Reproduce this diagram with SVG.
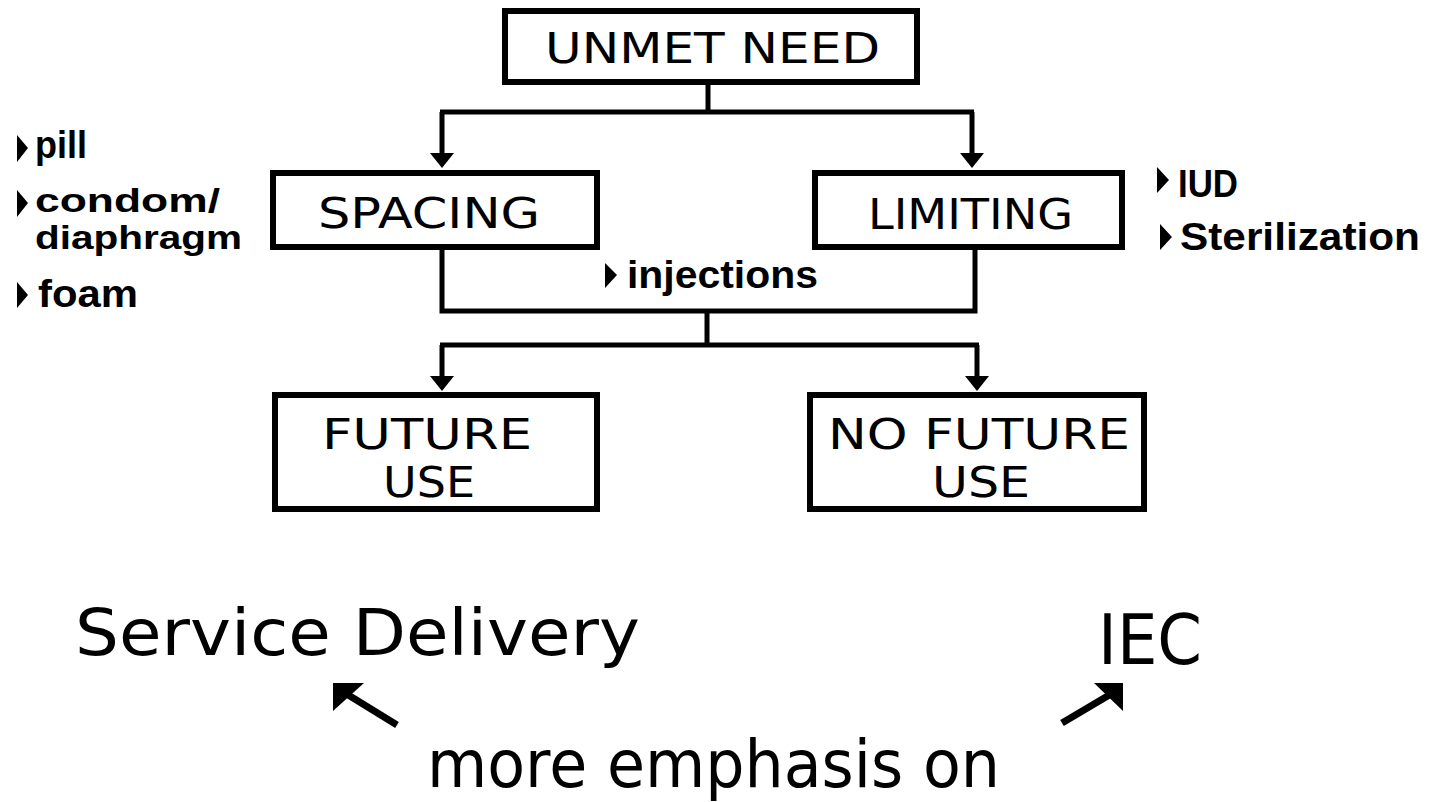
<svg xmlns="http://www.w3.org/2000/svg" width="1429" height="802" viewBox="0 0 1429 802">
<style>
.box{fill:#fff;stroke:#000;stroke-width:6}
.lbl{font-family:"DejaVu Sans","Liberation Sans",sans-serif;font-size:43px;fill:#000}
.big{font-family:"DejaVu Sans","Liberation Sans",sans-serif;fill:#000}
.bul{font-family:"Liberation Sans","Arial",sans-serif;font-weight:bold;font-size:39px;fill:#000}
.sm{font-size:34px}
.con{fill:none;stroke:#000;stroke-width:5}
.tri{fill:#000}
</style>
<defs>
<marker id="ah" viewBox="0 0 15 24" refX="0" refY="12" markerWidth="15" markerHeight="24" markerUnits="userSpaceOnUse" orient="auto">
<path d="M0,0 L15,12 L0,24 Z" fill="#000"/>
</marker>
</defs>
<rect width="1429" height="802" fill="#fff"/>
<g id="connectors">
<path class="con" d="M708,85 V112"/>
<path class="con" d="M440,112 H974"/>
<path class="con" d="M442,112 V153" marker-end="url(#ah)"/>
<path class="con" d="M972,112 V153" marker-end="url(#ah)"/>
<path class="con" d="M442,250 V311 H975 V250"/>
<path class="con" d="M707,311 V345"/>
<path class="con" d="M440,345 H979"/>
<path class="con" d="M442,345 V376" marker-end="url(#ah)"/>
<path class="con" d="M977,345 V376" marker-end="url(#ah)"/>
<path d="M345,693 L397,725" stroke="#000" stroke-width="7" fill="none"/>
<polygon points="333,683 364,683 333,711" fill="#000"/>
<path d="M1111,694 L1062,723" stroke="#000" stroke-width="7" fill="none"/>
<polygon points="1123,683 1094,683 1123,711" fill="#000"/>
</g>
<g id="unmet-need">
<rect class="box" x="505" y="11" width="412" height="71"/>
<text class="lbl" x="545" y="63" textLength="335" lengthAdjust="spacingAndGlyphs">UNMET NEED</text>
</g>
<g id="spacing">
<rect class="box" x="273" y="173" width="324" height="74"/>
<text class="lbl" x="318" y="228" textLength="222" lengthAdjust="spacingAndGlyphs">SPACING</text>
</g>
<g id="limiting">
<rect class="box" x="815" y="173" width="307" height="74"/>
<text class="lbl" x="868" y="229" textLength="205" lengthAdjust="spacingAndGlyphs">LIMITING</text>
</g>
<g id="future-use">
<rect class="box" x="275" y="395" width="322" height="114"/>
<text class="lbl" x="322" y="449" textLength="210" lengthAdjust="spacingAndGlyphs">FUTURE</text>
<text class="lbl" x="383" y="497" textLength="92" lengthAdjust="spacingAndGlyphs">USE</text>
</g>
<g id="no-future-use">
<rect class="box" x="810" y="395" width="334" height="114"/>
<text class="lbl" x="828" y="449" textLength="302" lengthAdjust="spacingAndGlyphs">NO FUTURE</text>
<text class="lbl" x="932" y="497" textLength="98" lengthAdjust="spacingAndGlyphs">USE</text>
</g>
<g id="spacing-methods">
<polygon class="tri" points="17,135 28,148 17,162"/>
<text class="bul" x="35" y="158" textLength="52" lengthAdjust="spacingAndGlyphs">pill</text>
<polygon class="tri" points="17,190 28,203 17,217"/>
<text class="bul sm" x="35" y="212" textLength="185" lengthAdjust="spacingAndGlyphs">condom/</text>
<text class="bul sm" x="35" y="249" textLength="207" lengthAdjust="spacingAndGlyphs">diaphragm</text>
<polygon class="tri" points="17,282 28,295 17,308"/>
<text class="bul" x="38" y="307" textLength="100" lengthAdjust="spacingAndGlyphs">foam</text>
</g>
<g id="limiting-methods">
<polygon class="tri" points="1157,167 1169,180 1157,193"/>
<text class="bul" x="1178" y="197" textLength="60" lengthAdjust="spacingAndGlyphs">IUD</text>
<polygon class="tri" points="1160,224 1172,237 1160,250"/>
<text class="bul" x="1180" y="250" textLength="240" lengthAdjust="spacingAndGlyphs">Sterilization</text>
</g>
<g id="injections">
<polygon class="tri" points="605,263 617,275 605,288"/>
<text class="bul" x="627" y="288" textLength="191" lengthAdjust="spacingAndGlyphs">injections</text>
</g>
<g id="service-delivery">
<text class="big" x="75" y="655" font-size="64" textLength="565" lengthAdjust="spacingAndGlyphs">Service Delivery</text>
</g>
<g id="iec">
<text class="big" x="1098" y="664" font-size="70" textLength="104" lengthAdjust="spacingAndGlyphs">IEC</text>
</g>
<g id="more-emphasis">
<text class="big" x="427" y="787" font-size="66" textLength="573" lengthAdjust="spacingAndGlyphs">more emphasis on</text>
</g>
</svg>
